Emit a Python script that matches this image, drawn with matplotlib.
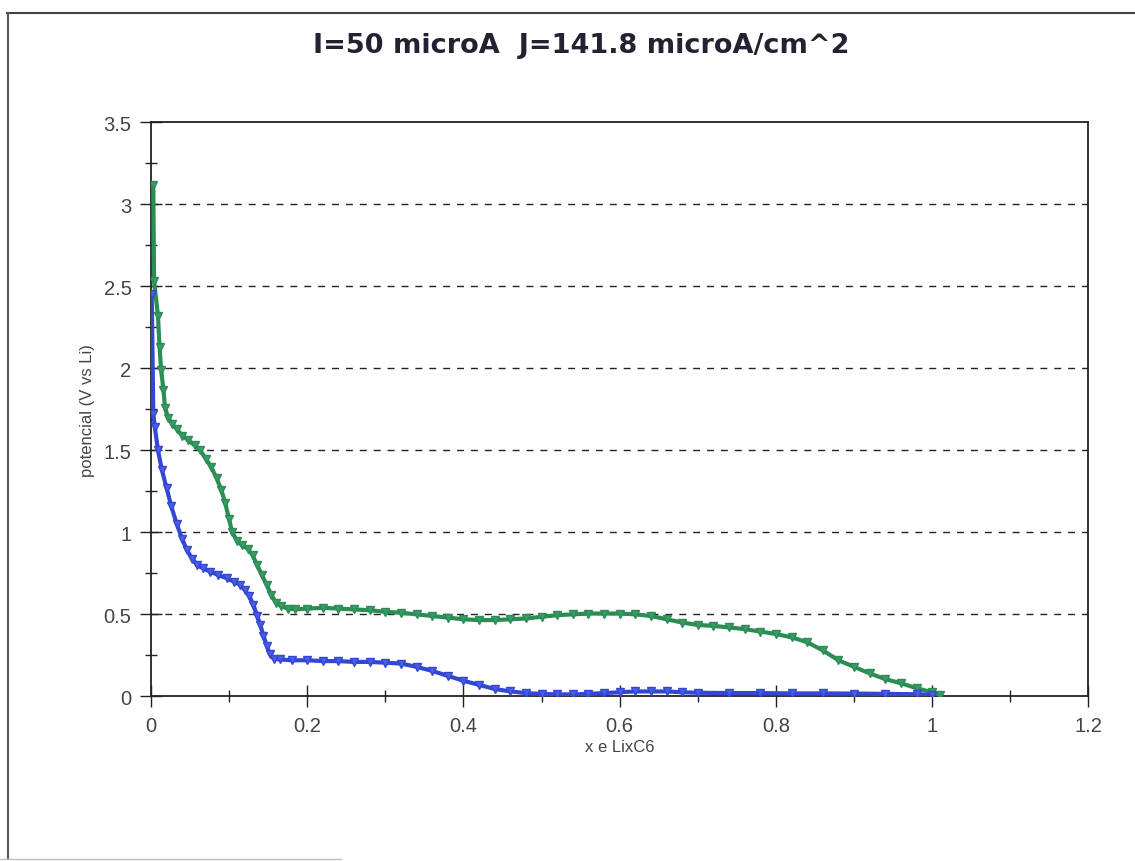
import numpy as np
import matplotlib
matplotlib.use("Agg")
import matplotlib.pyplot as plt
from matplotlib.lines import Line2D
from matplotlib.ticker import MultipleLocator

# potential vs lithium content, two cycles
x_green = [0.003, 0.004, 0.009, 0.011, 0.013, 0.016, 0.018, 0.022, 0.027, 0.033,
           0.040, 0.048, 0.056, 0.063, 0.070, 0.077, 0.084, 0.090, 0.095, 0.100,
           0.104, 0.110, 0.117, 0.124, 0.130, 0.136, 0.142, 0.148, 0.154, 0.160,
           0.167, 0.175, 0.185, 0.20, 0.22, 0.24, 0.26, 0.28, 0.30, 0.32,
           0.34, 0.36, 0.38, 0.40, 0.42, 0.44, 0.46, 0.48, 0.50, 0.52,
           0.54, 0.56, 0.58, 0.60, 0.62, 0.64, 0.66, 0.68, 0.70, 0.72,
           0.74, 0.76, 0.78, 0.80, 0.82, 0.84, 0.86, 0.88, 0.90, 0.92,
           0.94, 0.96, 0.98, 1.00, 1.01]
y_green = [3.12, 2.53, 2.32, 2.13, 1.99, 1.87, 1.76, 1.70, 1.66, 1.63,
           1.59, 1.56, 1.53, 1.50, 1.45, 1.40, 1.33, 1.26, 1.18, 1.08,
           1.00, 0.95, 0.92, 0.90, 0.86, 0.80, 0.74, 0.68, 0.62, 0.57,
           0.55, 0.535, 0.53, 0.535, 0.54, 0.535, 0.53, 0.525, 0.515, 0.51,
           0.50, 0.49, 0.48, 0.47, 0.465, 0.465, 0.47, 0.475, 0.485, 0.495,
           0.50, 0.505, 0.505, 0.505, 0.50, 0.49, 0.47, 0.45, 0.435, 0.43,
           0.42, 0.41, 0.395, 0.38, 0.36, 0.33, 0.28, 0.22, 0.18, 0.14,
           0.105, 0.08, 0.05, 0.025, 0.01]

x_blue = [0.001, 0.003, 0.005, 0.009, 0.014, 0.020, 0.026, 0.033, 0.040, 0.046,
          0.053, 0.059, 0.067, 0.076, 0.086, 0.097, 0.106, 0.114, 0.120, 0.126,
          0.131, 0.136, 0.140, 0.144, 0.148, 0.152, 0.157, 0.165, 0.18, 0.20,
          0.22, 0.24, 0.26, 0.28, 0.30, 0.32, 0.34, 0.36, 0.38, 0.40,
          0.42, 0.44, 0.46, 0.48, 0.50, 0.52, 0.54, 0.56, 0.58, 0.60,
          0.62, 0.64, 0.66, 0.68, 0.70, 0.74, 0.78, 0.82, 0.86, 0.90,
          0.94, 0.98, 1.00]
y_blue = [2.45, 1.72, 1.64, 1.50, 1.38, 1.27, 1.16, 1.05, 0.96, 0.89,
          0.84, 0.80, 0.78, 0.76, 0.74, 0.72, 0.70, 0.68, 0.65, 0.61,
          0.56, 0.49, 0.435, 0.37, 0.31, 0.26, 0.23, 0.225, 0.22, 0.22,
          0.215, 0.215, 0.21, 0.21, 0.205, 0.20, 0.18, 0.155, 0.125, 0.095,
          0.07, 0.045, 0.03, 0.02, 0.015, 0.012, 0.012, 0.015, 0.02, 0.025,
          0.03, 0.03, 0.03, 0.025, 0.022, 0.02, 0.02, 0.018, 0.018, 0.017,
          0.015, 0.013, 0.01]

x_ticks = [0, 0.2, 0.4, 0.6, 0.8, 1, 1.2]
y_ticks = [0, 0.5, 1, 1.5, 2, 2.5, 3, 3.5]

label_font = ["Liberation Sans", "DejaVu Sans"]

fig = plt.figure(figsize=(11.35, 8.62), dpi=100)
ax = fig.add_axes([0.133, 0.191, 0.826, 0.666])

ax.plot(x_green, y_green, color="#2b8c55", lw=3.0, marker="v", ms=5.5,
        mew=1.0, mfc="#3a9a63", mec="#2b8c55", zorder=3)
ax.plot(x_blue, y_blue, color="#3447d4", lw=3.0, marker="v", ms=5.5,
        mew=1.0, mfc="#4a5ee0", mec="#3447d4", zorder=3)

ax.set_xlim(0, 1.2)
ax.set_ylim(0, 3.5)
ax.set_xticks(x_ticks)
ax.set_xticklabels([f"{v:g}" for v in x_ticks])
ax.set_yticks(y_ticks)
ax.set_yticklabels([f"{v:g}" for v in y_ticks])
ax.xaxis.set_minor_locator(MultipleLocator(0.1))
ax.yaxis.set_minor_locator(MultipleLocator(0.25))
ax.tick_params(which="major", direction="inout", length=16, width=1.0, color="#222222",
               labelsize=14.5, labelcolor="#444444", pad=6)
ax.tick_params(which="minor", direction="inout", length=8, width=1.0, color="#222222")
for lab in ax.get_xticklabels() + ax.get_yticklabels():
    lab.set_family(label_font)

# dashed gridlines between the first and last tick
for v in y_ticks[1:-1]:
    ax.axhline(v, color="#222222", lw=1.0, ls=(0, (5, 5)), zorder=1)

for side in ax.spines.values():
    side.set_color("#222222")
    side.set_linewidth(1.3)

ax.set_xlabel("x e LixC6", family=label_font, fontsize=12, color="#444444", labelpad=3)
ax.set_ylabel("potencial (V vs Li)", family=label_font, fontsize=12, color="#444444", labelpad=6)
fig.text(0.512, 0.947, "I=50 microA  J=141.8 microA/cm^2", ha="center", va="center",
         family="DejaVu Sans", fontsize=19.5, fontweight="bold", color="#222233")

# outer chart frame
fig.add_artist(Line2D([0.006, 1.0], [0.984, 0.984], color="#444444", lw=1.5))
fig.add_artist(Line2D([0.007, 0.007], [0.003, 0.984], color="#555555", lw=1.5))
fig.add_artist(Line2D([0.0, 0.3], [0.002, 0.002], color="#bbbbbb", lw=1.0))

fig.savefig("out.png", dpi=100)
